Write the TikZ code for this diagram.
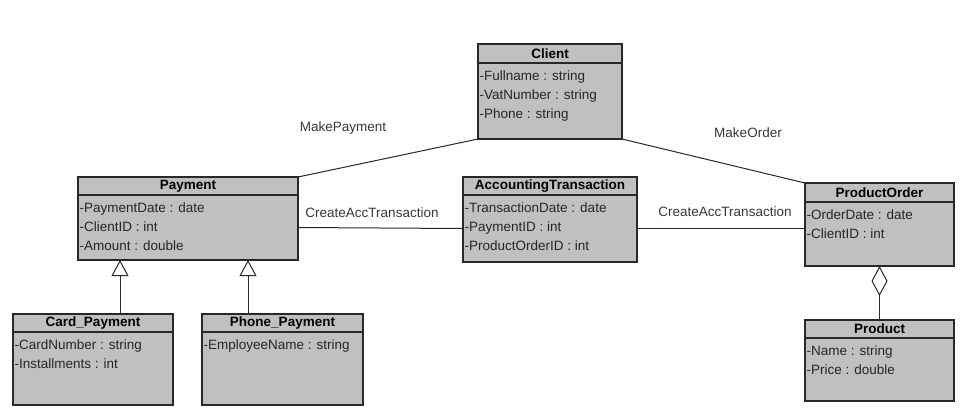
\documentclass[tikz,border=0pt]{standalone}
\usepackage{fontspec}
\setmainfont{Liberation Sans}
\usetikzlibrary{arrows.meta,positioning}
\definecolor{boxgray}{RGB}{192,192,192}
\definecolor{linegray}{RGB}{40,40,40}
\definecolor{labelgray}{RGB}{55,55,55}
\tikzset{
  classhead/.style={draw=linegray,fill=boxgray,line width=1.2pt,inner sep=0pt,outer sep=0pt,font=\fontsize{13.5}{16}\selectfont\bfseries},
  classbody/.style={draw=linegray,fill=boxgray,line width=1.2pt,inner sep=0pt,outer sep=0pt},
  attrs/.style={anchor=north west,inner sep=0pt,xshift=1.5pt,yshift=-8pt,align=left,text=black!85,font=\fontsize{13.5}{19}\selectfont},
  assoc/.style={font=\fontsize{13.5}{16}\selectfont,text=labelgray},
  link/.style={draw=linegray,line width=1pt}
}

\begin{document}
\begin{tikzpicture}[x=1pt,y=-1pt]
\useasboundingbox (0,0) rectangle (964,416);

\node[classhead,minimum width=144pt,minimum height=19pt] (client) at (550,53.5) {Client};
\node[classbody,minimum width=144pt,minimum height=76pt,below=0pt of client] (client-body) {};
\node[attrs] (client-attr) at (client-body.north west) {-Fullname : string\\-VatNumber : string\\-Phone : string};

\node[classhead,minimum width=220pt,minimum height=18pt] (payment) at (188,186) {Payment};
\node[classbody,minimum width=220pt,minimum height=65pt,below=0pt of payment] (payment-body) {};
\node[attrs] (payment-attr) at (payment-body.north west) {-PaymentDate : date\\-ClientID : int\\-Amount : double};

\node[classhead,minimum width=174pt,minimum height=18pt] (trans) at (550,186) {AccountingTransaction};
\node[classbody,minimum width=174pt,minimum height=67pt,below=0pt of trans] (trans-body) {};
\node[attrs] (trans-attr) at (trans-body.north west) {-TransactionDate : date\\-PaymentID : int\\-ProductOrderID : int};

\node[classhead,minimum width=149pt,minimum height=19pt] (order) at (879.5,192.5) {ProductOrder};
\node[classbody,minimum width=149pt,minimum height=64pt,below=0pt of order] (order-body) {};
\node[attrs] (order-attr) at (order-body.north west) {-OrderDate : date\\-ClientID : int};

\node[classhead,minimum width=149pt,minimum height=18pt] (product) at (879.5,329) {Product};
\node[classbody,minimum width=149pt,minimum height=63pt,below=0pt of product] (product-body) {};
\node[attrs] (product-attr) at (product-body.north west) {-Name : string\\-Price : double};

\node[classhead,minimum width=160pt,minimum height=18pt] (card) at (93,323) {Card\_Payment};
\node[classbody,minimum width=160pt,minimum height=73pt,below=0pt of card] (card-body) {};
\node[attrs] (card-attr) at (card-body.north west) {-CardNumber : string\\-Installments : int};

\node[classhead,minimum width=161pt,minimum height=18pt] (phone) at (282.5,323) {Phone\_Payment};
\node[classbody,minimum width=161pt,minimum height=73pt,below=0pt of phone] (phone-body) {};
\node[attrs] (phone-attr) at (phone-body.north west) {-EmployeeName : string};

\coordinate (cardlink) at (120,0);
\coordinate (phonelink) at (248,0);

\draw[link] (client-body.south west) -- (payment.north east);
\draw[link] (client-body.south east) -- (order.north west);
\draw[link] (payment-body.east) -- (trans-body.west);
\draw[link] (trans-body.east) -- (trans-body.east -| order-body.west);
\draw[link,-{Triangle[open,width=17pt,length=16pt]}] (card.north -| cardlink) -- (payment-body.south -| cardlink);
\draw[link,-{Triangle[open,width=17pt,length=16pt]}] (phone.north -| phonelink) -- (payment-body.south -| phonelink);
\draw[link,{Diamond[open,width=16pt,length=30pt]}-] (order-body.south) -- (product.north);

\node[assoc] (makepay) at (343,128) {MakePayment};
\node[assoc] (makeorder) at (748,133) {MakeOrder};
\node[assoc] (createpay) at (372,213) {CreateAccTransaction};
\node[assoc] (createorder) at (725,212) {CreateAccTransaction};
\end{tikzpicture}
\end{document}
